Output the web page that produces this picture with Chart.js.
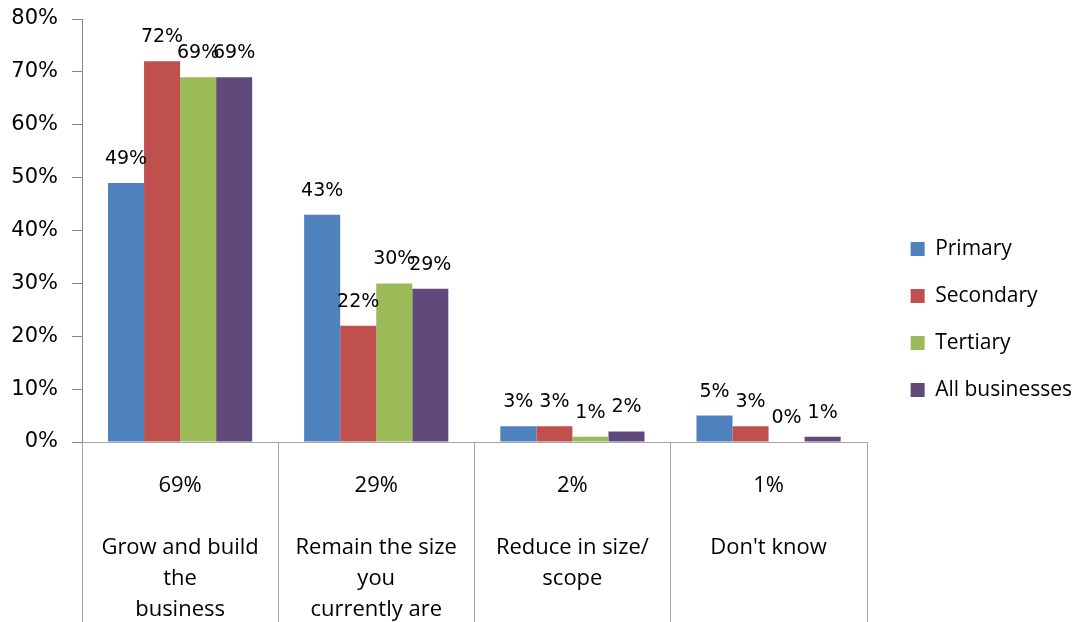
<!DOCTYPE html>
<html>
<head>
<meta charset="utf-8">
<script src="https://cdn.jsdelivr.net/npm/chart.js@4.4.1/dist/chart.umd.min.js"></script>
<style>
  html, body { margin: 0; padding: 0; background: #fff; overflow: hidden; }
  #wrap { position: relative; width: 1082px; height: 622px; }
</style>
</head>
<body>
<div id="wrap"><canvas id="plansChart"></canvas></div>
<script>
// Category names split into the lines shown under the axis
var categories = [
    ['Grow and build', 'the', 'business'],
    ['Remain the size', 'you', 'currently are'],
    ['Reduce in size/', 'scope'],
    ["Don't know"]
];
var seriesNames = ['Primary', 'Secondary', 'Tertiary', 'All businesses'];
var primary = [49, 43, 3, 5];
var secondary = [72, 22, 3, 3];
var tertiary = [69, 30, 1, 0];
var allBusinesses = [69, 29, 2, 1];
var yTicks = [0, 10, 20, 30, 40, 50, 60, 70, 80];
var colors = ['#4F81BD', '#C0504D', '#9BBB59', '#604A7B'];

// total row for all businesses sits above each category name
var xLabels = categories.map(function (lines, i) {
    return [allBusinesses[i] + '%', ''].concat(lines);
});

var LEGEND_GAP = 18;

var valueLabels = {
    id: 'valueLabels',
    afterDatasetsDraw: function (chart) {
        var ctx = chart.ctx;
        ctx.save();
        ctx.font = '19px "DejaVu Sans"';
        ctx.fillStyle = '#000';
        ctx.textAlign = 'center';
        ctx.textBaseline = 'middle';
        chart.data.datasets.forEach(function (ds, i) {
            var meta = chart.getDatasetMeta(i);
            meta.data.forEach(function (bar, j) {
                ctx.fillText(ds.data[j] + '%', bar.x, bar.y - 24);
            });
        });
        ctx.restore();
    }
};

// table-style dividers running from the axis down to the bottom edge
var categoryDividers = {
    id: 'categoryDividers',
    afterDraw: function (chart) {
        var x = chart.scales.x;
        var n = chart.data.labels.length;
        var ctx = chart.ctx;
        ctx.save();
        ctx.strokeStyle = '#a6a6a6';
        ctx.lineWidth = 1;
        ctx.beginPath();
        for (var i = 0; i <= n; i++) {
            var px = Math.round(x.getPixelForDecimal(i / n)) + 0.5;
            ctx.moveTo(px, x.top);
            ctx.lineTo(px, chart.height);
        }
        ctx.stroke();
        ctx.restore();
    }
};

// extra room between the plot and the legend entries
var legendGap = {
    id: 'legendGap',
    beforeLayout: function (chart) {
        var lg = chart.legend;
        if (!lg || lg._gapWrapped) return;
        var fit = lg.fit, draw = lg.draw;
        lg.fit = function () {
            fit.apply(this, arguments);
            this.width += LEGEND_GAP;
        };
        lg.draw = function () {
            var ctx = this.ctx;
            ctx.save();
            ctx.translate(LEGEND_GAP, 0);
            draw.apply(this, arguments);
            ctx.restore();
        };
        lg._gapWrapped = true;
    }
};

var seriesData = [primary, secondary, tertiary, allBusinesses];

function buildChart() {
    new Chart(document.getElementById('plansChart'), {
        type: 'bar',
        data: {
            labels: xLabels,
            datasets: seriesData.map(function (vals, i) {
                return {
                    label: seriesNames[i],
                    data: vals,
                    backgroundColor: colors[i],
                    borderWidth: 0,
                    categoryPercentage: 0.735,
                    barPercentage: 1
                };
            })
        },
        options: {
            responsive: true,
            maintainAspectRatio: false,
            animation: false,
            layout: {
                padding: { left: 10, top: 14, right: 0, bottom: -3 }
            },
            plugins: {
                legend: {
                    position: 'right',
                    labels: {
                        boxWidth: 14,
                        boxHeight: 14,
                        padding: 26,
                        color: '#000',
                        font: { family: 'Open Sans', size: 21 }
                    }
                },
                tooltip: { enabled: false }
            },
            scales: {
                x: {
                    grid: {
                        drawOnChartArea: false,
                        tickLength: 28,
                        color: 'rgba(0,0,0,0)'
                    },
                    border: { color: '#a6a6a6' },
                    ticks: {
                        padding: 0,
                        color: '#000',
                        maxRotation: 0,
                        autoSkip: false,
                        font: { family: 'Open Sans', size: 22, lineHeight: '31px' }
                    }
                },
                y: {
                    min: 0,
                    max: 80,
                    afterBuildTicks: function (axis) {
                        axis.ticks = yTicks.map(function (v) { return { value: v }; });
                    },
                    afterFit: function (scale) {
                        scale.width = 72;
                        scale.paddingTop = 19;
                    },
                    grid: {
                        drawOnChartArea: false,
                        tickLength: 10,
                        color: '#868686'
                    },
                    border: { color: '#868686' },
                    ticks: {
                        padding: 14,
                        color: '#000',
                        font: { family: 'DejaVu Sans', size: 21 },
                        callback: function (v) { return v + '%'; }
                    }
                }
            }
        },
        plugins: [valueLabels, categoryDividers, legendGap]
    });
}

Promise.all([
    document.fonts.load('21px "Open Sans"'),
    document.fonts.load('21px "DejaVu Sans"')
]).then(buildChart, buildChart);
</script>
</body>
</html>
